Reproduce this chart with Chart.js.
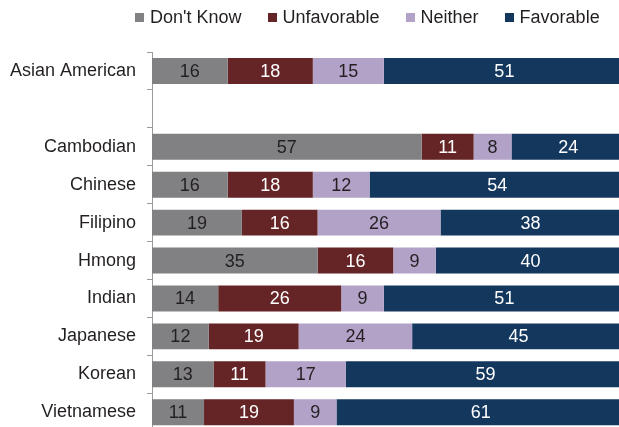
<!DOCTYPE html>
<html>
<head>
<meta charset="utf-8">
<script src="https://cdn.jsdelivr.net/npm/chart.js@4/dist/chart.umd.min.js"></script>
<style>
    html, body { margin: 0; padding: 0; background: #fff; }
    .wrap { position: relative; width: 619px; height: 427px; overflow: hidden; }
    #chart { position: absolute; left: 0; top: 0; }
    .legend {
        position: absolute; left: 135px; top: 6px;
        display: flex; align-items: center;
        font-family: "Liberation Sans", Arial, sans-serif; font-size: 18px; color: #231f20;
        line-height: 22px; white-space: nowrap;
    }
    .legend-item { display: flex; align-items: center; margin-right: 26px; }
    .legend-color { width: 9px; height: 9px; margin-right: 6px; }
</style>
</head>
<body>
<div class="wrap">
    <canvas id="chart" width="625" height="453"></canvas>
    <div class="legend" id="legend"></div>
</div>
<script>
// Survey groups; the empty entry leaves a gap under the overall row
const categories = ['Asian American', '', 'Cambodian', 'Chinese', 'Filipino', 'Hmong', 'Indian', 'Japanese', 'Korean', 'Vietnamese'];

const dontKnow    = [16, null, 57, 16, 19, 35, 14, 12, 13, 11];
const unfavorable = [18, null, 11, 18, 16, 16, 26, 19, 11, 19];
const neither     = [15, null,  8, 12, 26,  9,  9, 24, 17,  9];
const favorable   = [51, null, 24, 54, 38, 40, 51, 45, 59, 61];

const seriesNames = ["Don't Know", 'Unfavorable', 'Neither', 'Favorable'];
const seriesColors = ['#818184', '#652426', '#b2a2c8', '#14375e'];
const labelColors = ['#231f20', '#ffffff', '#231f20', '#ffffff'];

const FONT = '"Liberation Sans", Arial, sans-serif';

// Values written in the middle of each segment
const segmentLabels = {
    id: 'segmentLabels',
    afterDatasetsDraw(chart) {
        const ctx = chart.ctx;
        ctx.save();
        ctx.font = '18px ' + FONT;
        ctx.textAlign = 'center';
        ctx.textBaseline = 'middle';
        chart.data.datasets.forEach((ds, i) => {
            const meta = chart.getDatasetMeta(i);
            meta.data.forEach((bar, j) => {
                const v = ds.data[j];
                if (v === null || v === undefined) return;
                ctx.fillStyle = labelColors[i];
                ctx.fillText(String(v), (bar.x + bar.base) / 2, bar.y + 1);
            });
        });
        ctx.restore();
    }
};

const seriesData = [dontKnow, unfavorable, neither, favorable];

new Chart(document.getElementById('chart').getContext('2d'), {
    type: 'bar',
    data: {
        labels: categories,
        datasets: seriesData.map((data, i) => ({
            label: seriesNames[i],
            data: data,
            backgroundColor: seriesColors[i],
            borderWidth: 0,
            categoryPercentage: 1,
            barPercentage: 0.684
        }))
    },
    options: {
        indexAxis: 'y',
        responsive: false,
        animation: false,
        devicePixelRatio: 1,
        layout: { padding: { top: 52, left: 0, right: 0, bottom: 0 } },
        plugins: {
            legend: { display: false },
            tooltip: { enabled: false }
        },
        scales: {
            x: {
                stacked: true,
                display: false,
                min: 0,
                max: 100
            },
            y: {
                stacked: true,
                afterFit(scale) { scale.width = 152; },
                border: { color: '#9a9a9a', width: 1 },
                grid: {
                    drawOnChartArea: false,
                    drawTicks: true,
                    tickLength: 5,
                    color: '#9a9a9a'
                },
                ticks: {
                    padding: 11,
                    color: '#231f20',
                    font: { family: FONT, size: 18 }
                }
            }
        }
    },
    plugins: [segmentLabels]
});

// Legend row
document.getElementById('legend').innerHTML = seriesNames.map((name, i) => `
    <div class="legend-item">
        <div class="legend-color" style="background: ${seriesColors[i]}"></div>
        <span>${name}</span>
    </div>
`).join('');
</script>
</body>
</html>
